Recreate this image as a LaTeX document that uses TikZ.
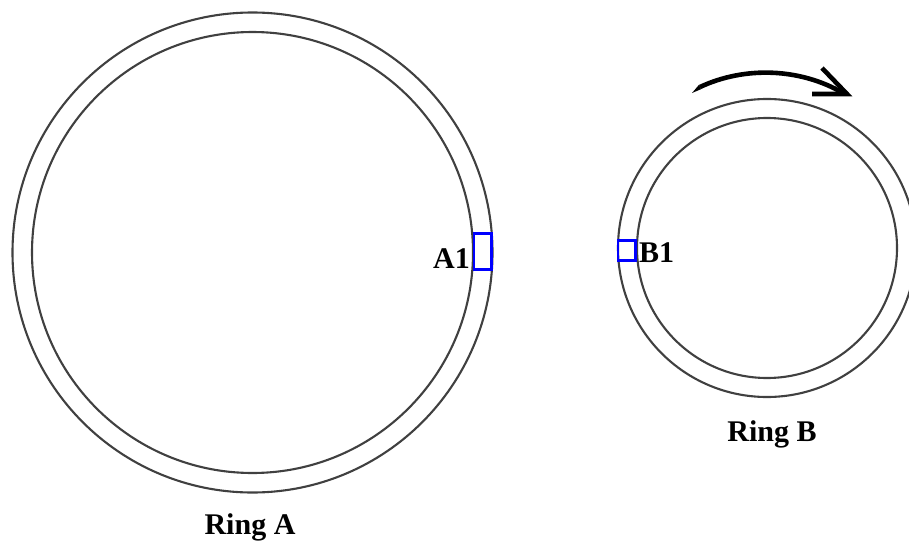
\documentclass[tikz,border=0pt]{standalone}
\usepackage{fontspec}
\setmainfont{Liberation Serif}
\begin{document}
\begin{tikzpicture}[x=1pt,y=-1pt,
  ringline/.style={draw=black!75,line width=2.1pt},
  marker/.style={draw=blue,line width=2.4pt},
  lbl/.style={font=\fontsize{30}{35}\selectfont\bfseries,inner sep=0pt}]
\useasboundingbox (0,0) rectangle (909,543);
\clip (0,0) rectangle (909,543);
% Ring A
\draw[ringline] (252.5,252.5) circle[radius=240];
\draw[ringline] (252.5,252.5) circle[radius=220.5];
% Ring B
\draw[ringline] (767,248) circle[radius=149];
\draw[ringline] (767,248) circle[radius=130];
% markers
\draw[marker] (474,233.5) rectangle (491.5,269.5);
\draw[marker] (618,240.5) rectangle (635.5,260.5);
% labels
\node[lbl,anchor=base east] (a1) at (470,268) {A1};
\node[lbl,anchor=base west] (b1) at (639,262) {B1};
\node[lbl,anchor=base] (ringa) at (250,534) {Ring A};
\node[lbl,anchor=base] (ringb) at (772,441) {Ring B};
% rotation arrow
\coordinate (arrs) at (692,93);
\coordinate (arrt) at (847,94);
\fill[black] (arrs) -- (701,89.2) -- (699,84.8) -- cycle;
\draw[black,line width=4.6pt] (700,87) .. controls (745,66) and (800,68) .. (843,93);
\draw[black,line width=4.6pt,line join=miter,miter limit=10] (822,68) -- (arrt) -- (812,94);
\end{tikzpicture}
\end{document}
